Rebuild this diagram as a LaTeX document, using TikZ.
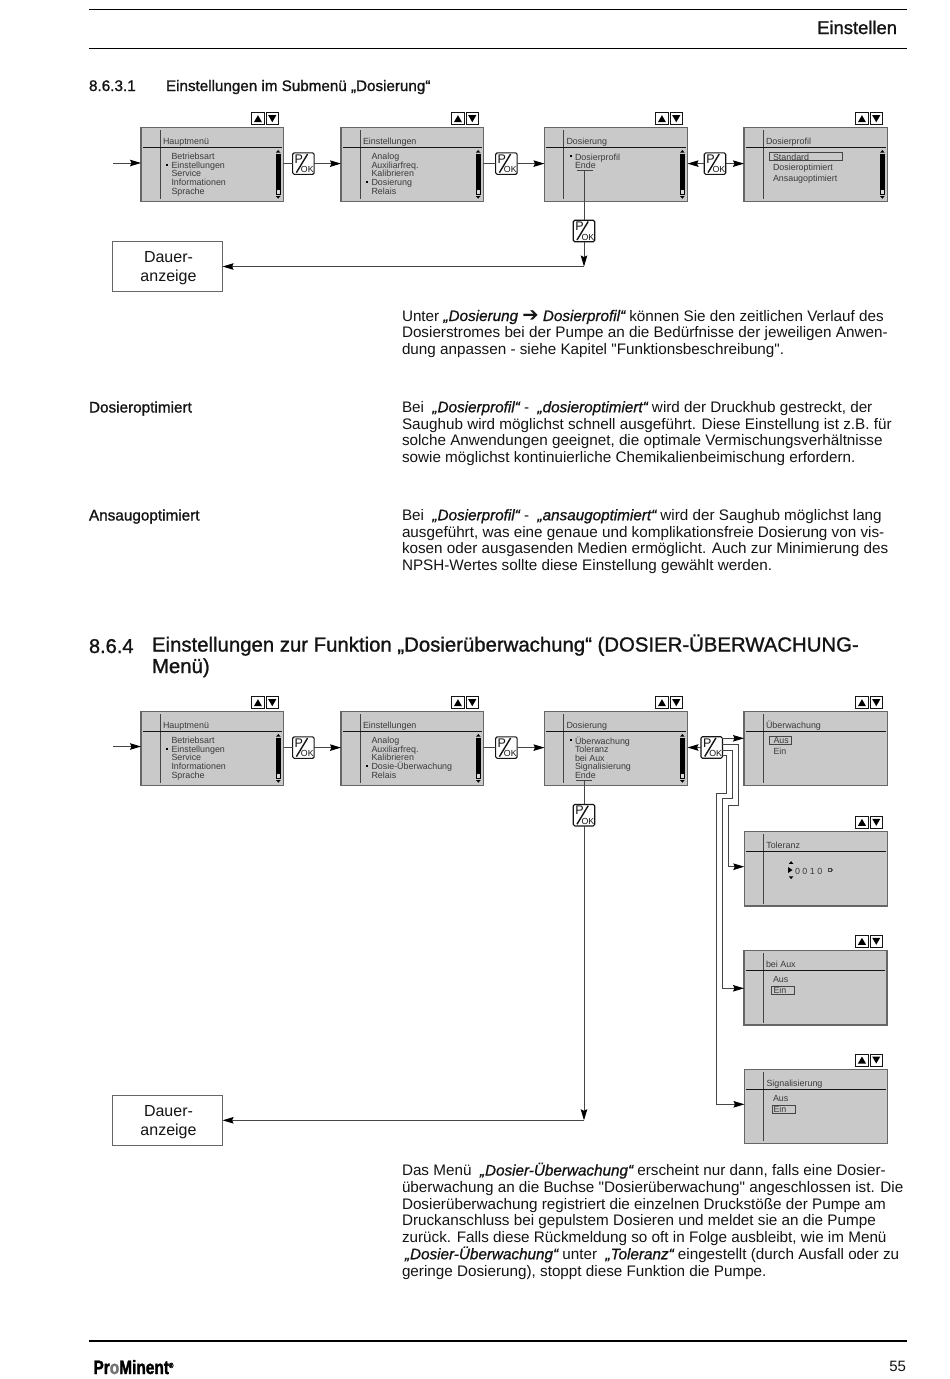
\documentclass[tikz,border=0pt]{standalone}
\usepackage{fontspec}
\usetikzlibrary{arrows.meta,calc}
\setmainfont{Liberation Sans}
\newfontfamily\hbf[FakeBold=1.2]{Liberation Sans}
\newfontfamily\hbi[FakeBold=0.8,ItalicFont={Liberation Sans Italic}]{Liberation Sans}
\newfontfamily\dvu{DejaVu Sans}
\newfontfamily\plainq{Liberation Sans}
\newfontfamily\logof[FakeStretch=0.8,FakeBold=1.6]{Liberation Sans Bold}
\lineskiplimit=-30pt
\definecolor{ink}{HTML}{141414}
\definecolor{scr}{HTML}{C9C9C9}
\definecolor{edge}{HTML}{666666}
\definecolor{stxt}{HTML}{3A3A3A}
\definecolor{lin}{HTML}{454545}
\newcommand\itb[1]{{\hbi\itshape #1}}
\newcommand\sq[1]{{\plainq"}#1{\plainq"}}
\tikzset{
  every node/.style={outer sep=0pt},
  screenbox/.style={draw=edge,fill=scr,line width=1.2pt,inner sep=0,anchor=north west},
  stext/.style={inner sep=0,anchor=base west,text=stxt,align=left,font=\fontsize{8.9}{8.55}\selectfont},
  body/.style={inner sep=0,anchor=base west,text=ink,align=left,font=\fontsize{15.25}{16.75}\selectfont},
  side/.style={inner sep=0,anchor=base west,text=ink,font=\fontsize{15.3}{17}\selectfont\hbf},
  conn/.style={draw=lin,line width=0.9pt},
  arr/.style={conn,-{Stealth[length=11pt,width=6.5pt,inset=1.5pt,color=black,fill=black]}},
  pagerule/.style={draw=black,line width=1.3pt},
  dauer/.style={draw=edge,fill=white,line width=0.8pt,minimum width=110.5pt,minimum height=49.5pt,inner sep=0,align=center,text=ink,font=\fontsize{16}{19.2}\selectfont},
  keybox/.style={draw=ink,fill=white,rounded corners=1.5pt,line width=1.1pt,minimum width=21.5pt,minimum height=21.5pt,inner sep=0},
  navbox/.style={draw=ink,fill=white,line width=0.8pt,minimum width=12.5pt,minimum height=12pt,inner sep=0},
  selbox/.style={draw=lin,line width=0.7pt,fill=none,inner sep=0,anchor=north west}
}
% name, x0, y0, x1, y1, title
\newcommand\screen[6]{%
  \pgfmathsetmacro\sw{#4-#2}\pgfmathsetmacro\sh{#5-#3}%
  \node[screenbox,minimum width=\sw pt,minimum height=\sh pt] (#1) at (#2,#3) {};
  \draw[draw=lin,line width=1.1pt] (#2+19.3,#3+2.5) -- (#2+19.3,#5-2.5);
  \draw[draw=ink,line width=1pt] (#2+1.8,#3+20) -- (#4-1.8,#3+20);
  \node[stext] (#1title) at (#2+22,#3+17) {#6};
}
\newcommand\scrollbar[2]{%
  \fill[black] (#1-7.5,#2+25.8) rectangle (#1-2.8,#2+67.5);
  \fill[white!85!black] (#1-6.8,#2+62.5) rectangle (#1-3.5,#2+66.7);
  \fill[black] (#1-7.5,#2+25) -- (#1-2.8,#2+25) -- (#1-5.15,#2+22.3) -- cycle;
  \fill[black] (#1-7.5,#2+68.3) -- (#1-2.8,#2+68.3) -- (#1-5.15,#2+71) -- cycle;
}
\newcommand\pok[3]{%
  \node[keybox] (#1) at (#2,#3) {};
  \node[inner sep=0,anchor=base west,text=ink,font=\fontsize{12.5}{13}\selectfont] (#1p) at (#2-8.7,#3-0.4) {P};
  \node[inner sep=0,anchor=base east,text=ink,font=\fontsize{8.8}{9}\selectfont] (#1ok) at (#2+10.3,#3+9.3) {OK};
  \draw[draw=ink,line width=1.4pt] (#2-7,#3+9) -- (#2+4.2,#3-9.5);
}
\newcommand\updown[3]{%
  \node[navbox,anchor=north west] (#1u) at (#2,#3) {};
  \node[navbox,anchor=north west] (#1d) at (#2+14.3,#3) {};
  \fill[black] (#2+2.2,#3+9.5) -- (#2+10.3,#3+9.5) -- (#2+6.25,#3+2.5) -- cycle;
  \fill[black] (#2+16.5,#3+2.5) -- (#2+24.6,#3+2.5) -- (#2+20.55,#3+9.5) -- cycle;
}
\newcommand\bullt[2]{\fill[black] (#1,#2-1) rectangle (#1+2.2,#2+1);}
\newcommand\dauertext{\rule{0pt}{15pt}\hspace*{2.4pt}Dauer-\\\hspace*{2.4pt}anzeige}
\begin{document}
\begin{tikzpicture}[x=1pt,y=-1pt]
\useasboundingbox (0,0) rectangle (950,1379);
\fill[white] (0,0) rectangle (950,1379);

% ---------- page furniture
\coordinate (t1) at (89,9.5); \coordinate (t2) at (907,9.5);
\coordinate (t3) at (89,48.5); \coordinate (t4) at (907,48.5);
\coordinate (t5) at (89,1341); \coordinate (t6) at (907,1341);
\draw[pagerule] (t1) -- (t2);
\draw[pagerule,line width=1.9pt] (t3) -- (t4);
\draw[pagerule,line width=1.6pt] (t5) -- (t6);
\node[inner sep=0,anchor=base east,text=ink,font=\fontsize{18.4}{20}\selectfont\hbf] (head) at (897,34) {Einstellen};
\node[side] (s1n) at (89,91) {8.6.3.1};
\node[side,font=\fontsize{15.2}{17}\selectfont\hbf] (s1t) at (166,91) {Einstellungen im Submenü „Dosierung“};

% ---------- first diagram
\updown{a1}{251.7}{112.7}
\updown{a2}{451.7}{112.7}
\updown{a3}{655.7}{112.7}
\updown{a4}{855.7}{112.7}
\screen{A1}{141}{127.7}{283.3}{201.7}{Hauptmenü}
\screen{A2}{341}{127.7}{483.3}{201.7}{Einstellungen}
\screen{A3}{544.5}{127.7}{687.5}{201.7}{Dosierung}
\screen{A4}{744}{127.7}{887.5}{201.7}{Dosierprofil}
\scrollbar{283.3}{127.7}
\scrollbar{483.3}{127.7}
\scrollbar{687.5}{127.7}
\scrollbar{887.5}{127.7}
\node[stext] (A1i) at (171.5,194) {Betriebsart\\Einstellungen\\Service\\Informationen\\Sprache};
\bullt{166.2}{165}
\node[stext] (A2i) at (371.5,194) {Analog\\Auxiliarfreq.\\Kalibrieren\\Dosierung\\Relais};
\bullt{366.2}{182}
\node[stext] (A3i) at (575,168.7) {Dosierprofil\\Ende};
\bullt{569.5}{155.5}
\node[selbox,minimum width=73.3pt,minimum height=8pt] (A4s) at (769,152.3) {};
\node[stext,font=\fontsize{8.9}{10.5}\selectfont] (A4i) at (773,181) {Standard\\Dosieroptimiert\\Ansaugoptimiert};
\draw[conn] (577,170.7) -- (593,170.7);
\coordinate (A3e) at (584,170.7);
\pok{k1}{303.4}{163.6}
\pok{k2}{506.4}{163.6}
\pok{k3}{715}{163.6}
\pok{k4}{584}{231}
\coordinate (Ain) at (113,163);
\draw[arr] (Ain) -- (A1.west |- Ain);
\draw[conn] (A1.east |- k1) -- (k1.west);
\draw[arr] (k1.east) -- (A2.west |- k1);
\draw[conn] (A2.east |- k2) -- (k2.west);
\draw[arr] (k2.east) -- (A3.west |- k2);
\draw[arr] (k3.west) -- (A3.east |- k3);
\draw[arr] (k3.east) -- (A4.west |- k3);
\draw[conn] (A3e) -- (k4.north);
\coordinate (Aj) at (584,266.5);
\draw[arr] (k4.south) -- (Aj);
\node[dauer] (D1) at (167.3,266.3) {\dauertext};
\draw[arr] (Aj) -- (D1.east |- Aj);

% ---------- texts
\node[body] (p1) at (402,354.5) {Unter \itb{„Dosierung {\dvu\upshape\bfseries\fontsize{19.5}{16}\selectfont ➔} Dosierprofil“} können Sie den zeitlichen Verlauf des\\Dosierstromes bei der Pumpe an die Bedürfnisse der jeweiligen Anwen-\\dung anpassen - siehe Kapitel \sq{Funktionsbeschreibung}.};
\node[side] (l2) at (89,412.5) {Dosieroptimiert};
\node[body] (p2) at (402,462.5) {Bei \ \itb{„Dosierprofil“} - \ \itb{„dosieroptimiert“} wird der Druckhub gestreckt, der\\Saughub wird möglichst schnell ausgeführt. Diese Einstellung ist z.B. für\\solche Anwendungen geeignet, die optimale Vermischungsverhältnisse\\sowie möglichst kontinuierliche Chemikalienbeimischung erfordern.};
\node[side] (l3) at (89,520.5) {Ansaugoptimiert};
\node[body] (p3) at (402,570.5) {Bei \ \itb{„Dosierprofil“} - \ \itb{„ansaugoptimiert“} wird der Saughub möglichst lang\\ausgeführt, was eine genaue und komplikationsfreie Dosierung von vis-\\kosen oder ausgasenden Medien ermöglicht. Auch zur Minimierung des\\NPSH-Wertes sollte diese Einstellung gewählt werden.};
\node[side,font=\fontsize{20}{21.5}\selectfont\hbf] (s2n) at (89,653) {8.6.4};
\node[side,align=left,font=\fontsize{20.35}{21.5}\selectfont\hbf] (s2t) at (152,673) {Einstellungen zur Funktion „Dosierüberwachung“ (DOSIER-ÜBERWACHUNG-\\Menü)};

% ---------- second diagram
\updown{b1}{251.7}{696.7}
\updown{b2}{451.7}{696.7}
\updown{b3}{655.7}{696.7}
\updown{b4}{855.7}{696.7}
\updown{b5}{855.7}{816.3}
\updown{b6}{855.7}{935.3}
\updown{b7}{855.7}{1054}
\screen{B1}{141}{711.7}{283.5}{785.5}{Hauptmenü}
\screen{B2}{341}{711.7}{483.5}{785.5}{Einstellungen}
\screen{B3}{544.5}{711.7}{687.5}{785.5}{Dosierung}
\screen{B4}{744}{711.7}{887.5}{785.5}{Überwachung}
\screen{B5}{744.3}{831.7}{887.5}{906}{Toleranz}
\screen{B6}{744}{950.7}{887}{1025}{bei Aux}
\screen{B7}{744.5}{1069.7}{887.5}{1143.5}{Signalisierung}
\scrollbar{283.5}{711.7}
\scrollbar{483.5}{711.7}
\scrollbar{687.5}{711.7}
\node[stext] (B1i) at (171.5,778) {Betriebsart\\Einstellungen\\Service\\Informationen\\Sprache};
\bullt{166.2}{749}
\node[stext] (B2i) at (371.5,778) {Analog\\Auxiliarfreq.\\Kalibrieren\\Dosie-Überwachung\\Relais};
\bullt{366.2}{766}
\node[stext] (B3i) at (575,778.5) {Überwachung\\Toleranz\\bei Aux\\Signalisierung\\Ende};
\bullt{569.5}{740}
\node[selbox,minimum width=22.4pt,minimum height=8pt] (B4s) at (769.3,736.3) {};
\node[stext,font=\fontsize{8.9}{10.7}\selectfont] (B4i) at (773.5,754) {Aus\\Ein};
\node[stext,font=\fontsize{8.9}{10}\selectfont] (B5v) at (795,874) {0\ 0\ 1\ 0};
\fill[black] (788,867) -- (788,873) -- (792.5,870) -- cycle;
\fill[black] (788.8,863.8) -- (793.4,863.8) -- (791.1,861.2) -- cycle;
\fill[black] (788.8,876.4) -- (793.4,876.4) -- (791.1,879) -- cycle;
\draw[draw=lin,line width=0.6pt] (828,868.5) rectangle (831,871.5);
\fill[lin] (831,868.5) -- (831,871.5) -- (833.5,870) -- cycle;
\node[stext] (B6a) at (773,982) {Aus};
\node[selbox,minimum width=23pt,minimum height=8.4pt] (B6s) at (771.7,986.3) {};
\node[stext] (B6e) at (773.5,993.5) {Ein};
\node[stext] (B7a) at (773,1101) {Aus};
\node[selbox,minimum width=23pt,minimum height=8pt] (B7s) at (772,1105) {};
\node[stext] (B7e) at (773.5,1112) {Ein};
\draw[conn] (575.5,780.7) -- (592,780.7);
\coordinate (B3e) at (584,780.7);
\pok{m1}{303.4}{747.6}
\pok{m2}{506.4}{747.6}
\pok{m3}{711.7}{747.5}
\pok{m4}{584}{815.2}
\coordinate (Bin) at (113,746.5);
\draw[arr] (Bin) -- (B1.west |- Bin);
\draw[conn] (B1.east |- m1) -- (m1.west);
\draw[arr] (m1.east) -- (B2.west |- m1);
\draw[conn] (B2.east |- m2) -- (m2.west);
\draw[arr] (m2.east) -- (B3.west |- m2);
\draw[arr] (m3.west) -- (B3.east |- m3);
\draw[arr] (m3.east |- 0,738.3) -- (B4.west |- 0,738.3);
\draw[arr] (m3.east |- 0,744.3) -| (738.3,805.7) -| (728.7,866.7) -- (B5.west |- 0,866.7);
\draw[arr] (m3.east |- 0,750) -| (732.7,798.3) -| (722.5,988.3) -- (B6.west |- 0,988.3);
\draw[arr] (m3.east |- 0,755.7) -| (726.7,793.3) -| (716,1104.3) -- (B7.west |- 0,1104.3);
\draw[conn] (B3e) -- (m4.north);
\node[dauer] (D2) at (167.3,1120.3) {\dauertext};
\coordinate (Bj) at (584,1120.3);
\draw[arr] (m4.south) -- (Bj);
\draw[arr] (Bj) -- (D2.east |- Bj);

\node[body] (p4) at (402,1276) {Das Menü \ \itb{„Dosier-Überwachung“} erscheint nur dann, falls eine Dosier-\\überwachung an die Buchse \sq{Dosierüberwachung} angeschlossen ist. Die\\Dosierüberwachung registriert die einzelnen Druckstöße der Pumpe am\\Druckanschluss bei gepulstem Dosieren und meldet sie an die Pumpe\\zurück. Falls diese Rückmeldung so oft in Folge ausbleibt, wie im Menü\\\hspace*{3pt}\itb{„Dosier-Überwachung“} unter \ \itb{„Toleranz“} eingestellt (durch Ausfall oder zu\\geringe Dosierung), stoppt diese Funktion die Pumpe.};

% ---------- footer
\node[inner sep=0,anchor=base west,text=black,font=\fontsize{19.3}{20}\selectfont\logof] (logo) at (93.5,1374) {Pr{\color{black!55}o}Minent\raisebox{6pt}{\fontsize{7.5}{7.5}\selectfont ®}};
\node[inner sep=0,anchor=base east,text=ink,font=\fontsize{15}{17}\selectfont] (pg) at (906,1371) {55};
\end{tikzpicture}
\end{document}
